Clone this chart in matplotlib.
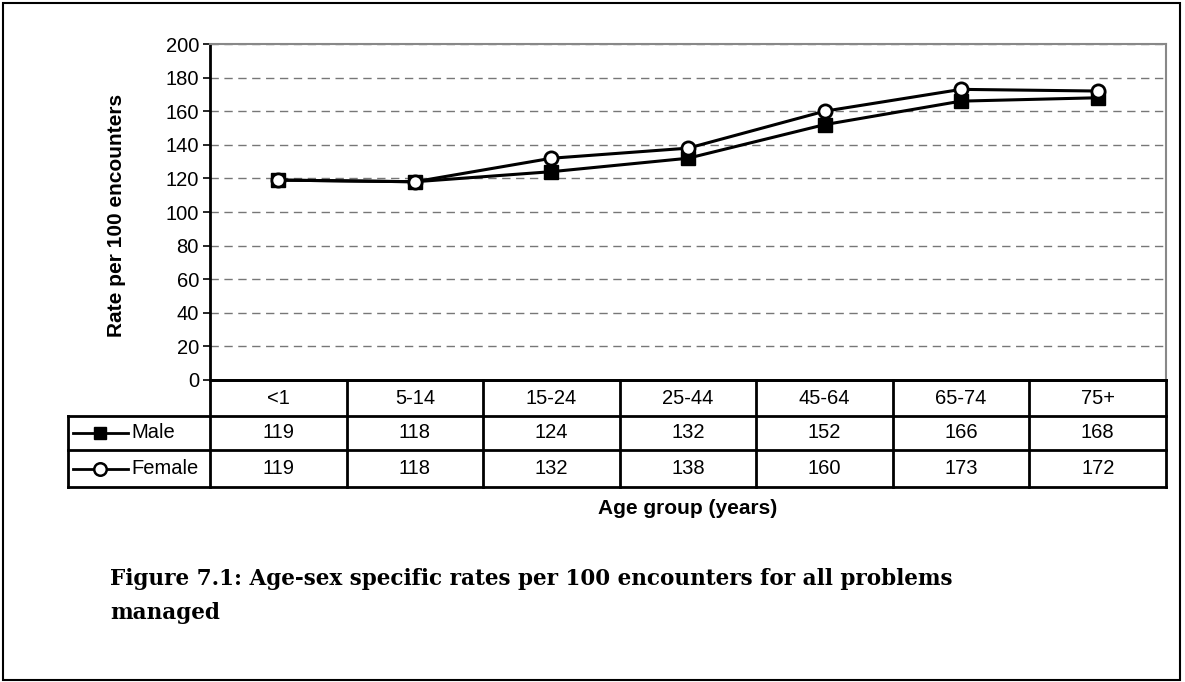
import matplotlib
matplotlib.use("Agg")
import matplotlib.pyplot as plt
from matplotlib.patches import Rectangle

plt.rcParams['font.family'] = ['Liberation Sans', 'DejaVu Sans']

# data
age_groups = ["<1", "5-14", "15-24", "25-44", "45-64", "65-74", "75+"]
male = [119, 118, 124, 132, 152, 166, 168]
female = [119, 118, 132, 138, 160, 173, 172]
series_names = ["Male", "Female"]

W, H = 1185, 682
fig = plt.figure(figsize=(W / 100, H / 100), dpi=100)

def fx(px):
    return px / W

def fy(py):
    return 1 - py / H

# outer frame
fig.add_artist(Rectangle((fx(3), fy(680)), fx(1180) - fx(3), fy(3) - fy(680),
                         transform=fig.transFigure, fill=False, edgecolor="black", lw=1.5))

left, right, top, bottom = 210, 1166, 44, 380
ax = fig.add_axes([fx(left), fy(bottom), fx(right) - fx(left), fy(top) - fy(bottom)])
x = list(range(len(age_groups)))
ax.plot(x, male, color="black", lw=2.2, marker="s", ms=9.5, mfc="black", mec="black", zorder=3)
ax.plot(x, female, color="black", lw=2.2, marker="o", ms=9.5, mfc="white", mec="black", mew=2, zorder=4)
ax.set_xlim(-0.5, len(age_groups) - 0.5)
ax.set_ylim(0, 200)
ax.set_yticks(range(0, 201, 20))
ax.set_xticks([])
ax.tick_params(axis="y", labelsize=14.5, length=5, width=1.2, pad=3)
ax.yaxis.grid(True, ls=(0, (6, 4)), color="#777777", lw=1)
ax.set_axisbelow(True)
for s in ["top", "right"]:
    ax.spines[s].set_color("#888888")
    ax.spines[s].set_linewidth(1.5)
for s in ["left", "bottom"]:
    ax.spines[s].set_color("black")
    ax.spines[s].set_linewidth(2)
fig.text(fx(116), fy(215), "Rate per 100 encounters", rotation=90, ha="center", va="center",
         fontsize=15, fontweight="bold")

# data table below
tab_left, row_y = 68, [380, 416, 450, 487]
col_w = (right - left) / len(age_groups)
tax = fig.add_axes([0, 0, 1, 1])
tax.set_xlim(0, W)
tax.set_ylim(H, 0)
tax.axis("off")
lw = 2
for i in range(len(age_groups) + 1):
    xc = left + i * col_w
    tax.plot([xc, xc], [row_y[0], row_y[3]], color="black", lw=lw)
tax.plot([tab_left, tab_left], [row_y[1], row_y[3]], color="black", lw=lw)
tax.plot([left, right], [row_y[0], row_y[0]], color="black", lw=lw)
for yy in row_y[1:]:
    tax.plot([tab_left, right], [yy, yy], color="black", lw=lw)

for i, g in enumerate(age_groups):
    tax.text(left + (i + 0.5) * col_w, (row_y[0] + row_y[1]) / 2, g,
             ha="center", va="center", fontsize=14.5)
for r, vals in enumerate([male, female]):
    yc = (row_y[r + 1] + row_y[r + 2]) / 2
    for i, v in enumerate(vals):
        tax.text(left + (i + 0.5) * col_w, yc, str(v), ha="center", va="center", fontsize=14.5)
    # legend key
    tax.plot([73, 128], [yc, yc], color="black", lw=2)
    if r == 0:
        tax.plot([100], [yc], marker="s", ms=8.5, mfc="black", mec="black", color="black")
    else:
        tax.plot([100], [yc], marker="o", ms=9, mfc="white", mec="black", mew=1.8, color="black")
    tax.text(131, yc, series_names[r], ha="left", va="center", fontsize=14.5)

fig.text(fx(688), fy(508), "Age group (years)", ha="center", va="center",
         fontsize=15, fontweight="bold")

fig.text(fx(110), fy(596), "Figure 7.1: Age-sex specific rates per 100 encounters for all problems\nmanaged",
         ha="left", va="center", fontsize=15.5, fontweight="bold", family=["DejaVu Serif"],
         linespacing=1.7)

fig.savefig("out.png", dpi=100)
